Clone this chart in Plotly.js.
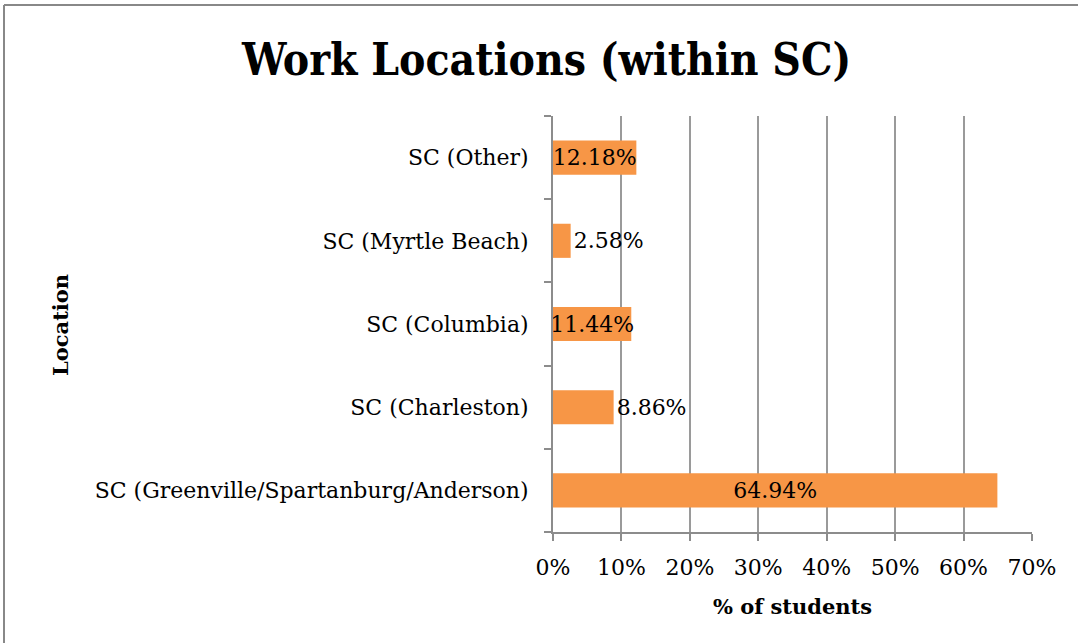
<!DOCTYPE html>
<html>
<head>
<meta charset="utf-8">
<script src="https://cdn.plot.ly/plotly-3.0.1.min.js"></script>
<style>
html,body{margin:0;padding:0;background:#fff;}
#chart{width:1078px;height:643px;}
</style>
</head>
<body>
<div id="chart"></div>
<script>
const categories = [
  "SC (Greenville/Spartanburg/Anderson)",
  "SC (Charleston)",
  "SC (Columbia)",
  "SC (Myrtle Beach)",
  "SC (Other)"
];
const percentValues = [64.94, 8.86, 11.44, 2.58, 12.18];
const valueLabels = ["64.94%", "8.86%", "11.44%", "2.58%", "12.18%"];
const labelPositions = ["inside", "outside", "inside", "outside", "inside"];
const xTickValues = [0, 10, 20, 30, 40, 50, 60, 70];
const xTickLabels = ["0%", "10%", "20%", "30%", "40%", "50%", "60%", "70%"];

const serif = "DejaVu Serif, Liberation Serif, serif";
const ML = 553, MR = 46, MT = 116, MB = 111, W = 1078, H = 643;
const PW = W - ML - MR, PH = H - MT - MB;
const px = v => (v - ML) / PW;
const py = v => (H - MB - v) / PH;

const trace = {
  type: "bar",
  orientation: "h",
  y: categories,
  x: percentValues,
  text: valueLabels,
  textposition: labelPositions,
  insidetextanchor: "middle",
  textangle: 0,
  constraintext: "none",
  cliponaxis: false,
  textfont: {family: serif, size: 22, color: "#000"},
  marker: {color: "#F79646", line: {width: 0}},
  hoverinfo: "skip"
};

const layout = {
  width: W, height: H,
  margin: {l: ML, r: MR, t: MT, b: MB, pad: 0},
  paper_bgcolor: "#fff",
  plot_bgcolor: "#fff",
  showlegend: false,
  bargap: 0.59,
  title: {
    text: "<b>Work Locations (within SC)</b>",
    font: {family: "DejaVu Serif Condensed, DejaVu Serif, serif", size: 44, color: "#000"},
    x: 0.507, xanchor: "center",
    y: 1 - 60 / H, yanchor: "middle"
  },
  xaxis: {
    range: [0, 70],
    tickvals: xTickValues,
    ticktext: xTickLabels,
    ticks: "outside",
    ticklen: 7,
    tickcolor: "#8c8c8c",
    tickwidth: 2,
    showgrid: true,
    gridcolor: "#9a9a9a",
    gridwidth: 2,
    showline: true,
    linecolor: "#8c8c8c",
    linewidth: 2,
    zeroline: false,
    fixedrange: true,
    ticklabelstandoff: 8,
    tickfont: {family: serif, size: 22, color: "#000"},
    title: {text: "<b>% of students</b>", font: {family: serif, size: 21, color: "#000"}, standoff: 20}
  },
  yaxis: {
    type: "category",
    categoryorder: "array",
    categoryarray: categories,
    tickson: "boundaries",
    ticks: "outside",
    ticklen: 7,
    tickcolor: "#8c8c8c",
    tickwidth: 2,
    showgrid: false,
    showline: true,
    linecolor: "#8c8c8c",
    linewidth: 2,
    zeroline: false,
    fixedrange: true,
    ticklabelstandoff: 18,
    tickfont: {family: serif, size: 22, color: "#000"}
  },
  annotations: [
    {text: "<b>Location</b>", xref: "paper", yref: "paper", x: px(60), y: py(325),
     xanchor: "center", yanchor: "middle", textangle: -90, showarrow: false,
     font: {family: serif, size: 21, color: "#000"}}
  ],
  shapes: [
    {type: "line", xref: "paper", yref: "paper", x0: px(4), x1: px(1078), y0: py(5), y1: py(5), line: {color: "#888", width: 2}},
    {type: "line", xref: "paper", yref: "paper", x0: px(4), x1: px(4), y0: py(5), y1: py(643), line: {color: "#888", width: 2}}
  ]
};

Plotly.newPlot("chart", [trace], layout, {displayModeBar: false, staticPlot: true});
</script>
</body>
</html>
